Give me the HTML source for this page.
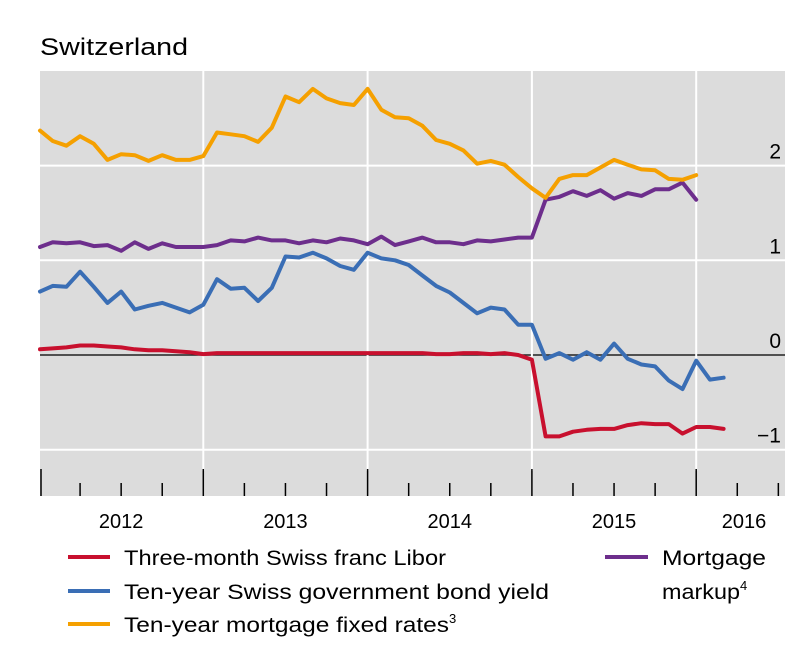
<!DOCTYPE html>
<html><head><meta charset="utf-8"><style>
html,body{margin:0;padding:0;background:#fff;}
svg{display:block;font-family:"Liberation Sans",Arial,sans-serif;}
</style></head><body>
<svg id="chart" width="811" height="666" viewBox="0 0 811 666" xmlns="http://www.w3.org/2000/svg">
<text x="40" y="55" font-size="24" fill="#000" textLength="148" lengthAdjust="spacingAndGlyphs">Switzerland</text>
<rect x="40" y="71" width="745" height="425" fill="#dcdcdc"/>
<g id="grid"></g>
<g id="ticks"></g>
<g id="series"></g>
<g id="labels"></g>
<g>
 <line x1="68" y1="557" x2="110" y2="557" stroke="#c8102e" stroke-width="4"/>
 <text x="124" y="565" font-size="21" textLength="322" lengthAdjust="spacingAndGlyphs">Three-month Swiss franc Libor</text>
 <line x1="68" y1="591" x2="110" y2="591" stroke="#3a6eb5" stroke-width="4"/>
 <text x="124" y="599" font-size="21" textLength="425" lengthAdjust="spacingAndGlyphs">Ten-year Swiss government bond yield</text>
 <line x1="68" y1="624" x2="110" y2="624" stroke="#f5a000" stroke-width="4"/>
 <text x="124" y="632" font-size="21"><tspan textLength="325" lengthAdjust="spacingAndGlyphs">Ten-year mortgage fixed rates</tspan><tspan font-size="13" dy="-9">3</tspan></text>
 <line x1="605" y1="557" x2="648" y2="557" stroke="#6d2e8c" stroke-width="4"/>
 <text x="662" y="565" font-size="21" textLength="104" lengthAdjust="spacingAndGlyphs">Mortgage</text>
 <text x="662" y="599" font-size="21"><tspan textLength="78" lengthAdjust="spacingAndGlyphs">markup</tspan><tspan font-size="13" dy="-9">4</tspan></text>
</g>
</svg>
<script>
const yTicks=[2,1,0,-1];
const yTickLabels=["2","1","0","\u22121"];
const years=[2012,2013,2014,2015,2016];
const libor=[0.06,0.07,0.08,0.10,0.10,0.09,0.08,0.06,0.05,0.05,0.04,0.03,
0.01,0.02,0.02,0.02,0.02,0.02,0.02,0.02,0.02,0.02,0.02,0.02,
0.02,0.02,0.02,0.02,0.02,0.01,0.01,0.02,0.02,0.01,0.02,0.00,
-0.05,-0.86,-0.86,-0.81,-0.79,-0.78,-0.78,-0.74,-0.72,-0.73,-0.73,-0.83,
-0.76,-0.76,-0.78];
const bond=[0.67,0.73,0.72,0.88,0.72,0.55,0.67,0.48,0.52,0.55,0.50,0.45,
0.53,0.80,0.70,0.71,0.57,0.71,1.04,1.03,1.08,1.02,0.94,0.90,
1.08,1.02,1.00,0.95,0.84,0.73,0.66,0.55,0.44,0.50,0.48,0.32,
0.32,-0.04,0.02,-0.05,0.03,-0.05,0.12,-0.04,-0.10,-0.12,-0.27,-0.36,
-0.06,-0.26,-0.24];
const mortgage=[2.37,2.26,2.21,2.31,2.23,2.06,2.12,2.11,2.05,2.11,2.06,2.06,
2.10,2.35,2.33,2.31,2.25,2.40,2.73,2.67,2.81,2.71,2.66,2.64,
2.81,2.59,2.51,2.50,2.42,2.27,2.23,2.16,2.02,2.05,2.01,1.88,
1.76,1.66,1.86,1.90,1.90,1.98,2.06,2.01,1.96,1.95,1.86,1.85,1.90];
const markup=[1.14,1.19,1.18,1.19,1.15,1.16,1.10,1.19,1.12,1.18,1.14,1.14,
1.14,1.16,1.21,1.20,1.24,1.21,1.21,1.18,1.21,1.19,1.23,1.21,
1.17,1.25,1.16,1.20,1.24,1.19,1.19,1.17,1.21,1.20,1.22,1.24,
1.24,1.64,1.67,1.73,1.68,1.74,1.65,1.71,1.68,1.75,1.75,1.82,1.64];

const NS="http://www.w3.org/2000/svg";
const X0=40,X1=785,Y0=71,Y1=496;
function xs(t){return 39+164.3*(t-2012);}
function ys(v){return 355-94.7*v;}
function mk(tag,attrs,parent){const e=document.createElementNS(NS,tag);for(const k in attrs)e.setAttribute(k,attrs[k]);parent.appendChild(e);return e;}
const grid=document.getElementById('grid'),ticks=document.getElementById('ticks'),series=document.getElementById('series'),labels=document.getElementById('labels');
yTicks.forEach((v,i)=>{
 const l=mk('line',{x1:X0,x2:X1,y1:ys(v),y2:ys(v),stroke:v===0?'#222':'#fff','stroke-width':v===0?1.5:2},grid);
 
 
 const t=mk('text',{x:781,y:ys(v)-7,'text-anchor':'end','font-size':21},labels);
 t.textContent=yTickLabels[i];
 
 
});
years.forEach(yr=>{
 if(yr>2012){const l=mk('line',{x1:xs(yr),x2:xs(yr),y1:Y0,y2:ys(-1.5)-26,stroke:'#fff','stroke-width':2},grid);
 
 }
 for(let q=0;q<4;q++){const t=yr+q/4;const x=xs(t)+(yr===2012&&q===0?2:0);if(x>X1)break;
  const m=mk('line',{x1:x,x2:x,y1:q===0?469:483,y2:Y1,stroke:'#000','stroke-width':1.5},ticks);
  
  }
 const cx=yr===2016?744:xs(yr+0.5);
 const t=mk('text',{x:cx,y:528,'text-anchor':'middle','font-size':20},labels);
 t.textContent=String(yr);
 
 
});
function draw(arr,color,name){
 const pts=arr.map((v,i)=>Math.max(X0,xs(2012+i/12)).toFixed(1)+','+ys(v).toFixed(1)).join(' ');
 const p=mk('polyline',{points:pts,fill:'none',stroke:color,'stroke-width':4,'stroke-linejoin':'round','stroke-linecap':'round'},series);
 
 
}
draw(markup,'#6d2e8c','mortgage-markup-line');
draw(mortgage,'#f5a000','mortgage-rates-line');
draw(bond,'#3a6eb5','bond-yield-line');
draw(libor,'#c8102e','libor-line');
</script>
</body></html>
